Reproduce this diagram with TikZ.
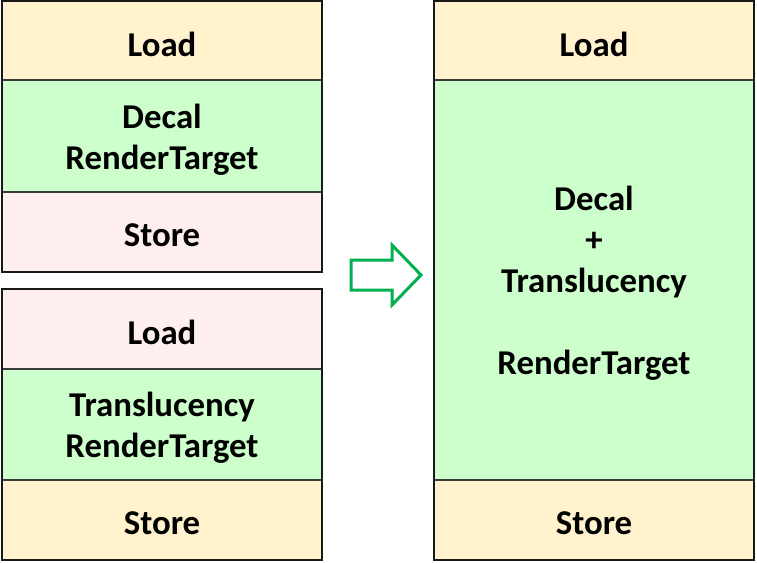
\documentclass[tikz,border=0pt]{standalone}
\usepackage{fontspec}
\setmainfont{Carlito}
\definecolor{loadfill}{HTML}{FFF2CC}
\definecolor{rtfill}{HTML}{CCFFCC}
\definecolor{storefill}{HTML}{FFEEEE}
\definecolor{segline}{HTML}{3A3A3A}
\definecolor{arrowgreen}{HTML}{00B050}
\begin{document}
\begin{tikzpicture}[x=1pt,y=-1pt,
  seg/.style={draw=segline, line width=1.2pt, minimum width=320pt, inner sep=0pt},
  segtext/.style={text width=310pt, align=center, inner sep=0pt, yshift=-3.5pt,
    font=\bfseries\fontsize{34.8}{41}\selectfont},
  frame/.style={draw=black!90, line width=2pt}]
\useasboundingbox (0,0) rectangle (757,562);

% first pass: decal render target
\node[seg, fill=loadfill,  minimum height=79pt]  (l1load)  at (162,40.5) {};
\node[seg, fill=rtfill,    minimum height=112pt] (l1rt)    at (162,136)  {};
\node[seg, fill=storefill, minimum height=80pt]  (l1store) at (162,232)  {};
\node[segtext] (t1load)  at (l1load)  {Load};
\node[segtext] (t1rt)    at (l1rt)    {Decal\\RenderTarget};
\node[segtext] (t1store) at (l1store) {Store};
\draw[frame] (2,1) rectangle (322,272);

% second pass: translucency render target
\node[seg, fill=storefill, minimum height=80pt]  (l2load)  at (162,329)   {};
\node[seg, fill=rtfill,    minimum height=111pt] (l2rt)    at (162,424.5) {};
\node[seg, fill=loadfill,  minimum height=80pt]  (l2store) at (162,520)   {};
\node[segtext] (t2load)  at (l2load)  {Load};
\node[segtext] (t2rt)    at (l2rt)    {Translucency\\RenderTarget};
\node[segtext] (t2store) at (l2store) {Store};
\draw[frame] (2,289) rectangle (322,560);

% merged pass
\node[seg, fill=loadfill, minimum height=79pt]  (rload)  at (594,40.5) {};
\node[seg, fill=rtfill,   minimum height=400pt] (rrt)    at (594,280)  {};
\node[seg, fill=loadfill, minimum height=80pt]  (rstore) at (594,520)  {};
\node[segtext] (trload)  at (rload)  {Load};
\node[segtext] (trrt)    at (rrt)    {Decal\\+\\Translucency\\[41pt]RenderTarget};
\node[segtext] (trstore) at (rstore) {Store};
\draw[frame] (434,1) rectangle (754,560);

% hollow block arrow
\draw[arrowgreen, line width=3pt, line join=miter]
  (351,260) -- (392,260) -- (392,245) -- (421,275) -- (392,305) -- (392,290) -- (351,290) -- cycle;
\end{tikzpicture}
\end{document}
